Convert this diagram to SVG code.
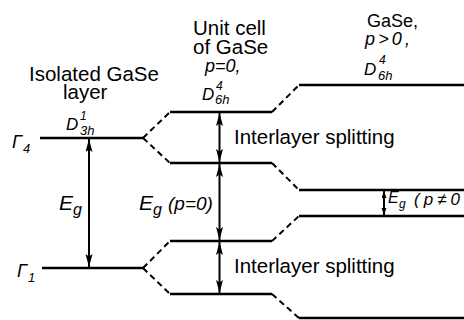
<svg xmlns="http://www.w3.org/2000/svg" width="464" height="320" viewBox="0 0 464 320">
<style>
.lvl{stroke:#000;stroke-width:2.6;fill:none}
.br{stroke:#000;stroke-width:2;fill:none;stroke-dasharray:6 4}
.ar{stroke:#000;stroke-width:2;fill:none}
text{font-family:"Liberation Sans",Arial,sans-serif;fill:#000}
.t{font-size:20.5px}
.it{font-style:italic}
</style>
<defs>
<marker id="ah" markerUnits="userSpaceOnUse" markerWidth="14" markerHeight="8" refX="13" refY="3.5" orient="auto-start-reverse">
<path d="M0,0 L13,3.5 L0,7 L2.5,3.5 Z" fill="#000"/>
</marker>
<marker id="ahs" markerUnits="userSpaceOnUse" markerWidth="8" markerHeight="6" refX="7" refY="2.5" orient="auto-start-reverse">
<path d="M0,0 L7,2.5 L0,5 Z" fill="#000"/>
</marker>
</defs>
<rect width="464" height="320" fill="#fff"/>

<g id="isolated-layer">
<text class="t" x="29" y="81">Isolated GaSe</text>
<text class="t" x="63" y="99">layer</text>
<text class="it" x="66" y="130" font-size="17">D</text>
<text class="it" x="80" y="120" font-size="12">1</text>
<text class="it" x="80" y="135" font-size="13">3h</text>
</g>
<g id="gamma4">
<line class="lvl" x1="40" y1="138" x2="143" y2="138"/>
<text class="it" x="12" y="148" font-size="18">Γ</text>
<text class="it" x="23" y="153" font-size="13">4</text>
</g>
<g id="gamma1">
<line class="lvl" x1="42" y1="268" x2="143" y2="268"/>
<text class="it" x="17" y="277" font-size="18">Γ</text>
<text class="it" x="28" y="282" font-size="13">1</text>
</g>

<g id="unit-cell">
<text class="t" x="193" y="35">Unit cell</text>
<text class="t" x="193" y="54">of GaSe</text>
<text class="it" x="205" y="72" font-size="18">p=0,</text>
<text class="it" x="202" y="100" font-size="17">D</text>
<text class="it" x="216" y="90" font-size="12">4</text>
<text class="it" x="215" y="104" font-size="13">6h</text>
</g>
<g id="mid-levels">
<line class="lvl" x1="170" y1="112" x2="272" y2="112"/>
<line class="lvl" x1="170" y1="163" x2="272" y2="163"/>
<line class="lvl" x1="170" y1="241" x2="272" y2="241"/>
<line class="lvl" x1="170" y1="294" x2="272" y2="294"/>
</g>

<g id="gase-p">
<text x="367" y="27" font-size="18">GaSe,</text>
<text class="it" x="365" y="45" font-size="18" textLength="45">p&gt;0,</text>
<text class="it" x="364" y="75" font-size="17">D</text>
<text class="it" x="379" y="64" font-size="12">4</text>
<text class="it" x="378" y="80" font-size="13">6h</text>
</g>
<g id="right-levels">
<line class="lvl" x1="299" y1="85" x2="464" y2="85"/>
<line class="lvl" x1="299" y1="190" x2="464" y2="190"/>
<line class="lvl" x1="299" y1="216" x2="464" y2="216"/>
<line class="lvl" x1="299" y1="318" x2="464" y2="318"/>
</g>

<g id="labels">
<text class="t" x="234" y="144">Interlayer splitting</text>
<text class="t" x="234" y="273">Interlayer splitting</text>
<text class="it" x="59" y="210" font-size="21">E</text>
<text class="it" x="73" y="215" font-size="16">g</text>
<text class="it" x="139" y="210" font-size="21">E</text>
<text class="it" x="153" y="215" font-size="16">g</text>
<text class="it" x="168" y="210" font-size="19">(p=0)</text>
<text class="it" x="388" y="203" font-size="16">E</text>
<text class="it" x="399" y="208" font-size="12">g</text>
<text class="it" x="414" y="205" font-size="17" textLength="46">(p≠0</text>
</g>

<g id="connectors">
<path class="br" d="M143,138 L170,112 M143,138 L170,163 M143,268 L170,241 M143,268 L170,294"/>
<path class="br" d="M272,112 L299,85 M272,163 L299,190 M272,241 L299,216 M272,294 L299,318"/>
<line class="ar" x1="89" y1="139" x2="89" y2="267" marker-start="url(#ah)" marker-end="url(#ah)"/>
<line class="ar" x1="219.5" y1="113" x2="219.5" y2="162" marker-start="url(#ah)" marker-end="url(#ah)"/>
<line class="ar" x1="219.5" y1="164" x2="219.5" y2="240" marker-start="url(#ah)" marker-end="url(#ah)"/>
<line class="ar" x1="219.5" y1="242" x2="219.5" y2="293" marker-start="url(#ah)" marker-end="url(#ah)"/>
<line class="ar" x1="384" y1="191" x2="384" y2="215" stroke-width="1.5" marker-start="url(#ahs)" marker-end="url(#ahs)"/>
</g>
</svg>
